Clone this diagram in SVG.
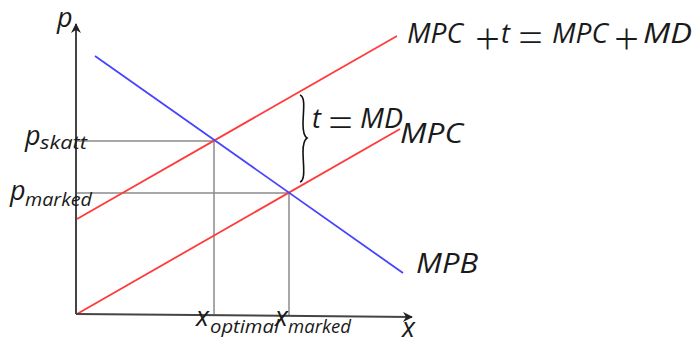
<svg xmlns="http://www.w3.org/2000/svg" width="699" height="344" viewBox="0 0 699 344">
<style>
text{font-family:"Open Sans","DejaVu Sans",sans-serif;font-style:italic;fill:#1a1a1a}
.lbl{font-size:27px}
.op{font-style:normal;font-weight:300;font-size:44px}
.sub{font-size:18px}
.grid{stroke:#8c8c8c;stroke-width:1.5;fill:none}
.axis{stroke:#444;stroke-width:2;fill:none}
.red{stroke:#ff3a3a;stroke-width:1.8;fill:none}
.blue{stroke:#4545ff;stroke-width:1.8;fill:none}
</style>
<defs>
<marker id="arr" viewBox="0 0 10 10" refX="9" refY="5" markerWidth="5" markerHeight="5" orient="auto" markerUnits="strokeWidth">
<path d="M0,0 L10,5 L0,10 L3,5 Z" fill="#222"/>
</marker>
</defs>
<g id="connectors">
<path class="grid" d="M77,141 H214 V314"/>
<path class="grid" d="M77,193 H289 V315"/>
<line class="red" x1="77" y1="219" x2="397" y2="36"/>
<line class="red" x1="77" y1="314" x2="400" y2="129"/>
<line class="blue" x1="95" y1="56" x2="403" y2="273"/>
<line class="axis" x1="76" y1="314" x2="76" y2="24" marker-end="url(#arr)"/>
<line class="axis" x1="76" y1="314" x2="412" y2="317" marker-end="url(#arr)"/>
<path d="M300,95 C306,97 303,112 303,124 C303,132 304,136 307,138 C304,140 303,144 303,152 C303,164 306,180 300,182" fill="none" stroke="#111" stroke-width="1.6"/>
</g>
<g id="label-p"><text class="lbl" x="57" y="27">p</text></g>
<g id="label-x"><text class="lbl" x="402" y="337">x</text></g>
<g id="label-top"><text class="lbl" y="43"><tspan x="407" textLength="56" lengthAdjust="spacingAndGlyphs">MPC</tspan><tspan class="op" x="475" y="55">+</tspan><tspan x="501" y="43">t</tspan><tspan class="op" x="518" y="53">=</tspan><tspan x="552" y="43" textLength="56" lengthAdjust="spacingAndGlyphs">MPC</tspan><tspan class="op" x="614" y="55">+</tspan><tspan x="643" y="43" textLength="49" lengthAdjust="spacingAndGlyphs">MD</tspan></text></g>
<g id="label-tmd"><text class="lbl" y="128"><tspan x="312">t</tspan><tspan class="op" x="328" y="138">=</tspan><tspan x="360" y="128" textLength="43" lengthAdjust="spacingAndGlyphs">MD</tspan></text></g>
<g id="label-mpc"><text class="lbl" x="400" y="143" textLength="63" lengthAdjust="spacingAndGlyphs">MPC</text></g>
<g id="label-mpb"><text class="lbl" x="416" y="273" textLength="62" lengthAdjust="spacingAndGlyphs">MPB</text></g>
<g id="label-pskatt"><text class="lbl" x="25" y="145">p</text><text class="sub" x="40" y="149" textLength="47" lengthAdjust="spacingAndGlyphs">skatt</text></g>
<g id="label-pmarked"><text class="lbl" x="10" y="200">p</text><text class="sub" x="25" y="206" textLength="67" lengthAdjust="spacingAndGlyphs">marked</text></g>
<g id="label-xopt"><text class="lbl" x="196" y="326">x</text><text class="sub" x="210" y="333" textLength="69" lengthAdjust="spacingAndGlyphs">optimal</text></g>
<g id="label-xmarked"><text class="lbl" x="275" y="326">x</text><text class="sub" x="288" y="333" textLength="63" lengthAdjust="spacingAndGlyphs">marked</text></g>
</svg>
